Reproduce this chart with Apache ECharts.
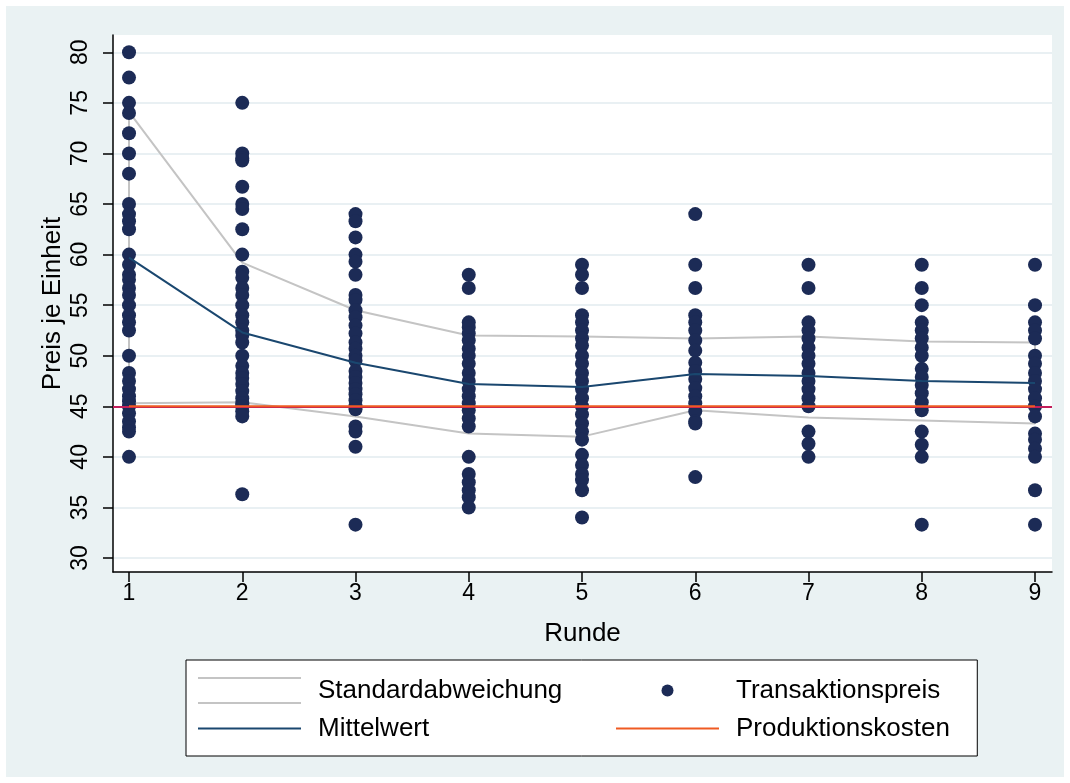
<!DOCTYPE html>
<html>
<head>
<meta charset="utf-8">
<script src="https://cdn.jsdelivr.net/npm/echarts@6/dist/echarts.min.js"></script>
<style>
html,body{margin:0;padding:0;background:#ffffff;}
#chart{width:1070px;height:783px;}
</style>
</head>
<body>
<div id="chart"></div>
<script>
// Rounds (x categories)
const rounds = [1, 2, 3, 4, 5, 6, 7, 8, 9];
// Tick labels
const yTicks = [30, 35, 40, 45, 50, 55, 60, 65, 70, 75, 80];
const xTicks = [1, 2, 3, 4, 5, 6, 7, 8, 9];

// Transaction prices per round
const price1 = [80, 77.5, 75, 74, 72, 70, 68, 65, 64, 63.3, 62.5, 60, 59, 58, 57.5, 56.7, 56, 55, 54, 53.3, 52.5, 50, 48.3, 47.5, 46.7, 46, 45.5, 45, 44.3, 43.5, 42.9, 42.5, 40];
const price2 = [75, 70, 69.5, 69.3, 66.7, 65, 64.5, 62.5, 60, 58.3, 57.7, 56.7, 56, 55, 54, 53.3, 52.5, 52, 51.3, 50, 49, 48.3, 47.8, 47.2, 46.5, 45.8, 45.3, 45, 44.5, 44, 36.3];
const price3 = [64, 63.3, 61.7, 60, 59.3, 58, 56, 55.5, 54.5, 53.8, 53, 52.2, 51.3, 50.7, 50, 49.5, 48.5, 47.9, 47.3, 46.7, 46.2, 45.6, 45, 44.7, 43, 42.5, 41, 33.3];
const price4 = [58, 56.7, 53.3, 52.8, 52.2, 51.5, 50.7, 50, 49.2, 48.3, 47.5, 46.7, 46, 45.3, 44.6, 43.8, 43, 40, 38.3, 37.5, 36.7, 36, 35];
const price5 = [59, 58, 56.7, 54, 53.3, 52.5, 51.7, 51, 50, 49.2, 48.3, 47.5, 46.7, 45.8, 45, 44.2, 43.3, 42.5, 41.7, 40.2, 39.2, 38.3, 37.7, 36.7, 34];
const price6 = [64, 59, 56.7, 54, 53.3, 52.5, 51.5, 50.5, 49.3, 48.5, 47.7, 46.8, 46, 45.3, 44.5, 43.5, 43.3, 38];
const price7 = [59, 56.7, 53.3, 52.5, 51.7, 50.8, 50, 49.2, 48.3, 47.5, 46.7, 45.8, 45, 42.5, 41.3, 40];
const price8 = [59, 56.7, 55, 53.3, 52.5, 51.7, 50.8, 50, 48.7, 47.9, 47.1, 46.3, 45.4, 44.6, 42.5, 41.2, 40, 33.3];
const price9 = [59, 55, 53.3, 52.5, 51.7, 50, 49.2, 48.3, 47.5, 46.7, 45.8, 45, 44, 42.3, 41.7, 40.8, 40, 36.7, 33.3];

// Mean and mean +/- standard deviation per round
const mittelwert = [59.7, 52.3, 49.3, 47.2, 46.9, 48.2, 48.0, 47.5, 47.3];
const stdUpper = [74.1, 59.2, 54.5, 52.0, 51.9, 51.7, 51.9, 51.4, 51.3];
const stdLower = [45.3, 45.4, 44.0, 42.3, 42.0, 44.6, 43.9, 43.6, 43.3];

// Production cost
const produktionskosten = 45;

const allPrices = [price1, price2, price3, price4, price5, price6, price7, price8, price9];
const scatterData = [];
allPrices.forEach((arr, i) => arr.forEach(v => scatterData.push([rounds[i], v])));

// closed outline: upper left->right, lower right->left, back to start
const stdData = [];
rounds.forEach((r, i) => stdData.push([r, stdUpper[i]]));
for (let i = rounds.length - 1; i >= 0; i--) stdData.push([rounds[i], stdLower[i]]);
stdData.push([rounds[0], stdUpper[0]]);

const meanData = rounds.map((r, i) => [r, mittelwert[i]]);
const costData = [[rounds[0], produktionskosten], [rounds[rounds.length - 1], produktionskosten]];

const FONT = '"Liberation Sans", Arial, sans-serif';
const C_DOT = '#1C2B56';
const C_MEAN = '#1A476F';
const C_STD = '#C4C4C4';
const C_COST = '#EF5A22';
const C_YLINE = '#C21E5A';

const iconTwoLines = 'path://M0 0 H103 V2 H0 Z M0 25 H103 V27 H0 Z';
const iconLine = 'path://M0 0 M103 27 M0 12.5 H103 V14.5 H0 Z';
const iconDot = 'path://M0 0 M103 27 M45.5 13.5 A6 6 0 1 0 57.5 13.5 A6 6 0 1 0 45.5 13.5 Z';

const chart = echarts.init(document.getElementById('chart'), null, {renderer: 'canvas'});
const legendText = {fontSize: 26, color: '#000', fontFamily: FONT, padding: [0, 0, 0, 12]};
const legendBase = {orient: 'horizontal', itemWidth: 103, itemHeight: 27, itemGap: 10, textStyle: legendText};

chart.setOption({
  backgroundColor: '#ffffff',
  animation: false,
  graphic: [{
    type: 'rect', silent: true, z: -100,
    shape: {x: 6, y: 6, width: 1058, height: 771},
    style: {fill: '#EAF2F3'}
  }],
  grid: {
    left: 113, right: 18, top: 35, bottom: 211,
    show: true, backgroundColor: '#ffffff', borderWidth: 0
  },
  legend: [
    Object.assign({}, legendBase, {
      left: 186, top: 660,
      padding: [17, 415, 52, 12],
      backgroundColor: '#ffffff', borderColor: '#000000', borderWidth: 1, borderRadius: 0,
      data: [{name: 'Standardabweichung', icon: iconTwoLines, itemStyle: {color: C_STD, borderWidth: 0}}]
    }),
    Object.assign({}, legendBase, {
      left: 616, top: 677, z: 10, padding: 0,
      data: [{name: 'Transaktionspreis', icon: iconDot, itemStyle: {color: C_DOT, borderWidth: 0}}]
    }),
    Object.assign({}, legendBase, {
      left: 198, top: 715, z: 10, padding: 0,
      data: [{name: 'Mittelwert', icon: iconLine, itemStyle: {color: C_MEAN, borderWidth: 0}}]
    }),
    Object.assign({}, legendBase, {
      left: 616, top: 715, z: 10, padding: 0,
      data: [{name: 'Produktionskosten', icon: iconLine, itemStyle: {color: C_COST, borderWidth: 0}}]
    })
  ],
  xAxis: {
    type: 'value', min: 0.8587, max: 9.15,
    name: 'Runde', nameLocation: 'middle', nameGap: 49,
    nameTextStyle: {fontSize: 26, color: '#000', fontFamily: FONT},
    axisLine: {show: true, lineStyle: {color: '#000', width: 1.5}},
    axisTick: {show: true, length: 10, lineStyle: {color: '#000', width: 1.5}, customValues: xTicks},
    axisLabel: {show: true, fontSize: 23, color: '#000', fontFamily: FONT, margin: 10, customValues: xTicks},
    splitLine: {show: false}
  },
  yAxis: {
    type: 'value', min: 28.616, max: 81.71,
    name: 'Preis je Einheit', nameLocation: 'middle', nameGap: 47, nameRotate: 90,
    nameMoveOverlap: false,
    nameTextStyle: {fontSize: 26, color: '#000', fontFamily: FONT},
    axisLine: {show: true, lineStyle: {color: '#000', width: 1.5}},
    axisTick: {show: true, length: 10, lineStyle: {color: '#000', width: 1.5}, customValues: yTicks},
    axisLabel: {show: true, rotate: 90, fontSize: 23, color: '#000', fontFamily: FONT, margin: 21, customValues: yTicks},
    splitLine: {show: true, lineStyle: {color: '#E2EBEF', width: 1.5}}
  },
  series: [{
    name: 'Standardabweichung', type: 'line', data: stdData, z: 2,
    symbol: 'none', lineStyle: {color: C_STD, width: 2}, itemStyle: {color: C_STD},
    markLine: {
      silent: true, symbol: ['none', 'none'], label: {show: false},
      lineStyle: {color: C_YLINE, width: 2, type: 'solid'},
      data: [{yAxis: produktionskosten}]
    }
  }, {
    name: 'Transaktionspreis', type: 'scatter', data: scatterData, z: 3,
    symbol: 'circle', symbolSize: 14, itemStyle: {color: C_DOT, opacity: 1}
  }, {
    name: 'Mittelwert', type: 'line', data: meanData, z: 4,
    symbol: 'none', lineStyle: {color: C_MEAN, width: 2}, itemStyle: {color: C_MEAN}
  }, {
    name: 'Produktionskosten', type: 'line', data: costData, z: 5,
    symbol: 'none', lineStyle: {color: C_COST, width: 2}, itemStyle: {color: C_COST}
  }]
});
</script>
</body>
</html>
